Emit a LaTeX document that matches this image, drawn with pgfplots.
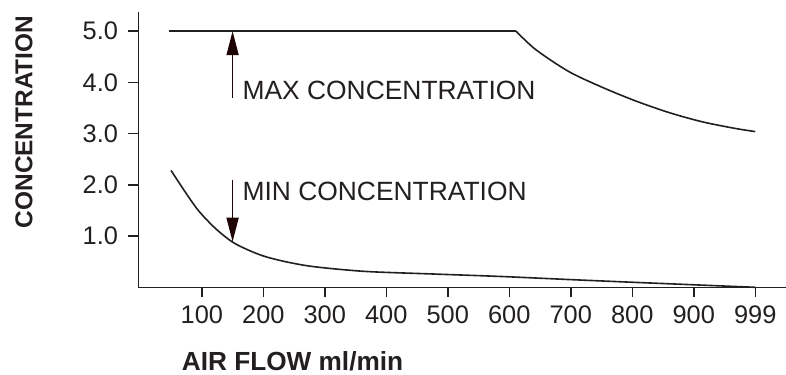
\documentclass[border=0pt]{standalone}
\usepackage{fontspec}
\setmainfont{Liberation Sans}
\usepackage{pgfplots}
\pgfplotsset{compat=1.18}
\usetikzlibrary{arrows.meta}
\definecolor{arr}{HTML}{1E0404}
\definecolor{ink}{HTML}{231F20}
\begin{document}
\begin{tikzpicture}
\begin{axis}[
  scale only axis,
  width=647.5bp, height=275.6bp,
  xmin=-3, xmax=1050, ymin=0, ymax=5.38,
  axis lines=left,
  axis line style={-, line width=1.5bp, ink},
  tick style={line width=1.5bp, ink},
  tick align=outside,
  major tick length=10bp,
  xtick={100,200,300,400,500,600,700,800,900,1000},
  xticklabels={100,200,300,400,500,600,700,800,900,999},
  ytick={1,2,3,4,5},
  yticklabels={1.0,2.0,3.0,4.0,5.0},
  tick label style={font=\fontsize{25.5}{30}\selectfont, text=ink},
  xticklabel style={yshift=-5bp},
  yticklabel style={xshift=-7bp},
  /pgf/number format/assume math mode=true,
  clip=false,
]
\addplot[line width=1.6bp, ink] coordinates {(47,5.0) (611,5.0)};
\addplot[line width=1.6bp, ink, smooth] coordinates {
 (611,5.0) (643,4.64) (697,4.21) (752,3.90) (805,3.64) (860,3.41) (914,3.23) (968,3.10) (1000,3.04)};
\addplot[line width=1.6bp, ink, smooth] coordinates {
 (50,2.28) (73,1.86) (95,1.49) (122,1.15) (149,0.89) (175,0.73) (203,0.60) (240,0.49) (284,0.40) (366,0.31) (475,0.26) (589,0.21) (700,0.15) (817,0.09) (1000,0.0)};
\addplot[line width=1.6bp, arr, -{Triangle[length=24bp,width=12bp]}] coordinates {(150,3.70) (150,5.0)};
\addplot[line width=1.6bp, arr, -{Triangle[length=24bp,width=12bp]}] coordinates {(150,2.09) (150,0.89)};
\node[anchor=base west, inner sep=0, font=\fontsize{26.5}{30}\selectfont, text=ink] at (axis cs:166,3.67) {MAX CONCENTRATION};
\node[anchor=base west, inner sep=0, font=\fontsize{26.5}{30}\selectfont, text=ink] at (axis cs:166,1.69) {MIN CONCENTRATION};
\node[anchor=base west, inner sep=0, font=\fontsize{26.3}{30}\selectfont\bfseries, text=ink] at ([xshift=43.2bp, yshift=-83.2bp]rel axis cs:0,0) {AIR FLOW ml/min};
\node[anchor=base, rotate=90, inner sep=0, font=\fontsize{24.5}{30}\selectfont\bfseries, text=ink] at ([xshift=-106.2bp, yshift=165.3bp]rel axis cs:0,0) {CONCENTRATION};
\end{axis}
\pgfresetboundingbox
\path (-138.5bp,-87.7bp) rectangle (647.5bp,287.3bp);
\end{tikzpicture}
\end{document}
